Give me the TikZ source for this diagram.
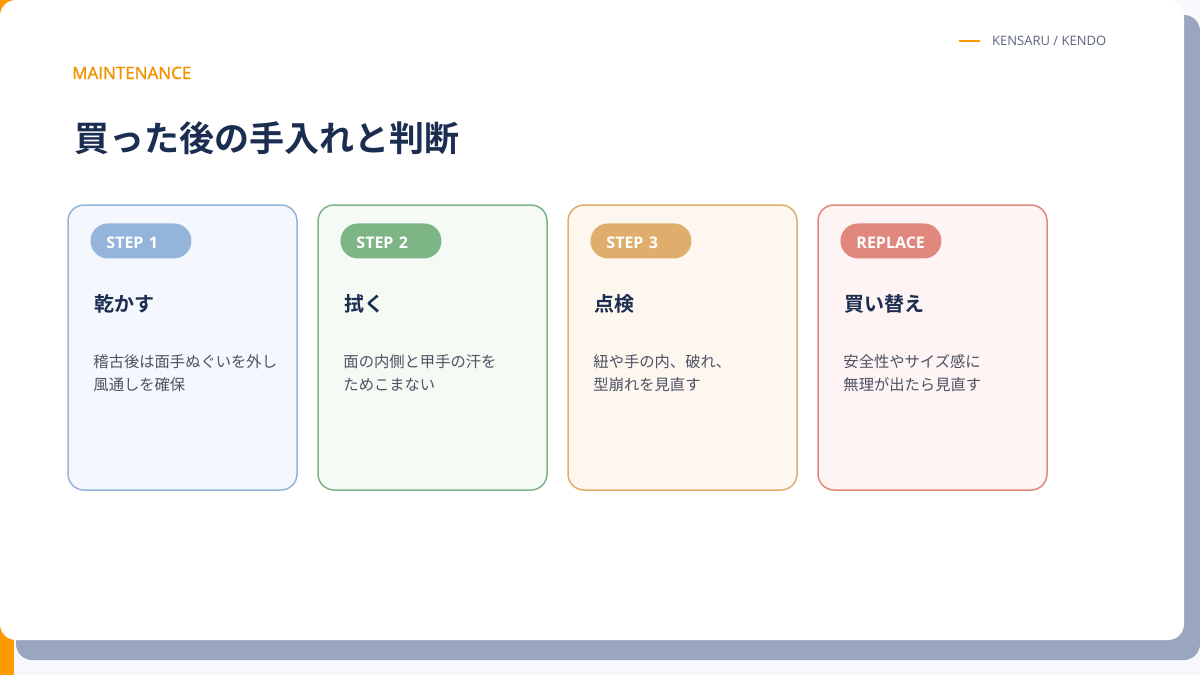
\documentclass[tikz,border=0pt]{standalone}
\usepackage{fontspec}
\setmainfont{Open Sans}
\newfontfamily\semi{Open Sans}[FakeBold=1.3]
\newfontfamily\jp{Noto Sans CJK JP}[BoldFont={Noto Sans CJK JP Bold}]
\usetikzlibrary{positioning}

\definecolor{pagebg}{HTML}{F7F8FC}
\definecolor{accent}{HTML}{FF9A00}
\definecolor{kicker}{HTML}{F39200}
\definecolor{shadowblue}{HTML}{9AA6BF}
\definecolor{navy}{HTML}{1B2D50}
\definecolor{descgray}{HTML}{4B5263}
\definecolor{brandgray}{HTML}{5B667A}
\definecolor{blueline}{HTML}{94B4DC}
\definecolor{bluefill}{HTML}{F4F8FE}
\definecolor{greenline}{HTML}{7DB587}
\definecolor{greenfill}{HTML}{F5FAF5}
\definecolor{sandline}{HTML}{E0AE6C}
\definecolor{sandfill}{HTML}{FDF7F0}
\definecolor{redline}{HTML}{E0877E}
\definecolor{redfill}{HTML}{FEF4F3}

\begin{document}
\begin{tikzpicture}[x=1pt, y=-1pt,
  card/.style={draw, line width=1.5pt, rounded corners=16pt, minimum width=229pt, minimum height=285pt, inner sep=0pt},
  pill/.style={anchor=north west, rounded corners=17.5pt, minimum height=35pt, text width=69pt, text height=15pt, text depth=0pt, inner xsep=16pt, inner ysep=0pt, text=white, font=\fontsize{16}{16}\selectfont\bfseries, align=left},
  head/.style={anchor=base west, inner sep=0pt, text=navy, font=\jp\fontsize{20}{20}\selectfont\bfseries},
  desc/.style={anchor=base west, inner sep=0pt, text=descgray, align=left, font=\jp\fontsize{15.3}{23}\selectfont}
]
\useasboundingbox (0,0) rectangle (1200,675);
% slide background
\fill[pagebg] (0,0) rectangle (1200,675);
\fill[accent] (0,0) rectangle (14,675);
\fill[shadowblue, rounded corners=16pt] (16,15) rectangle (1200,660);
\fill[white, rounded corners=16pt] (0,0) rectangle (1184,640);

\node[anchor=base west, inner sep=0pt, text=brandgray, font=\fontsize{13}{13}\selectfont] (brand) at (992,45.5) {KENSARU / KENDO};
\draw[accent, line width=2pt] ([xshift=-12pt]brand.west) -- ++(-21,0);
\node[anchor=base west, inner sep=0pt, text=kicker, font=\semi\fontsize{17}{17}\selectfont] (kick) at (72,79) {MAINTENANCE};
\node[anchor=base west, inner sep=0pt, text=navy, font=\jp\fontsize{35}{35}\selectfont\bfseries] (title) at (74,151) {買った後の手入れと判断};

% step cards
\node[card, draw=blueline, fill=bluefill] (card1) at (182.5,347.5) {};
\node[card, draw=greenline, fill=greenfill] (card2) at (432.5,347.5) {};
\node[card, draw=sandline, fill=sandfill] (card3) at (682.5,347.5) {};
\node[card, draw=redline, fill=redfill] (card4) at (932.5,347.5) {};

\node[pill, fill=blueline] (pill1) at ([xshift=23pt, yshift=-19pt]card1.north west) {STEP 1};
\node[pill, fill=greenline] (pill2) at ([xshift=23pt, yshift=-19pt]card2.north west) {STEP 2};
\node[pill, fill=sandline] (pill3) at ([xshift=23pt, yshift=-19pt]card3.north west) {STEP 3};
\node[pill, fill=redline] (pill4) at ([xshift=23pt, yshift=-19pt]card4.north west) {REPLACE};

\node[head] (head1) at ([xshift=27pt, yshift=-107pt]card1.north west) {乾かす};
\node[head] (head2) at ([xshift=27pt, yshift=-107pt]card2.north west) {拭く};
\node[head] (head3) at ([xshift=27pt, yshift=-107pt]card3.north west) {点検};
\node[head] (head4) at ([xshift=27pt, yshift=-107pt]card4.north west) {買い替え};

% base anchor sits on the second line
\node[desc] (desc1) at ([xshift=26pt, yshift=-186pt]card1.north west) {稽古後は面手ぬぐいを外し\\風通しを確保};
\node[desc] (desc2) at ([xshift=26pt, yshift=-186pt]card2.north west) {面の内側と甲手の汗を\\ためこまない};
\node[desc] (desc3) at ([xshift=26pt, yshift=-186pt]card3.north west) {紐や手の内、破れ、\\型崩れを見直す};
\node[desc] (desc4) at ([xshift=26pt, yshift=-186pt]card4.north west) {安全性やサイズ感に\\無理が出たら見直す};
\end{tikzpicture}
\end{document}
